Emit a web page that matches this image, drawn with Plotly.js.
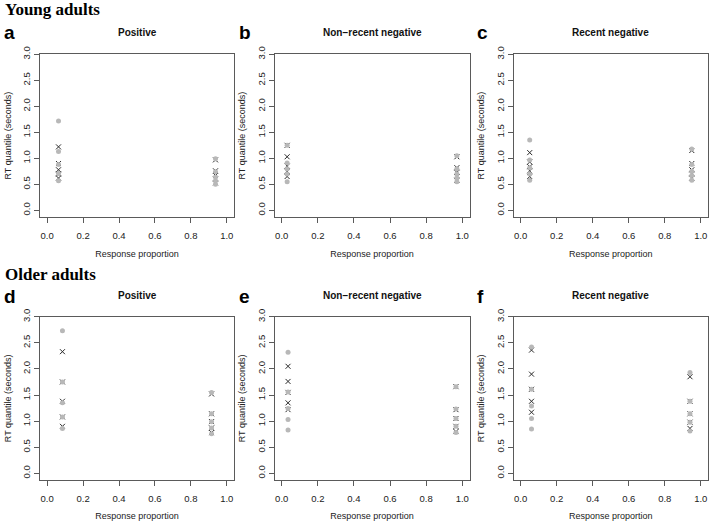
<!DOCTYPE html>
<html>
<head>
<meta charset="utf-8">
<script src="https://cdn.plot.ly/plotly-3.0.1.min.js"></script>
<style>
  html, body { margin: 0; padding: 0; background: #fff; }
  #chart { width: 709px; height: 521px; }
</style>
</head>
<body>
<div id="chart"></div>
<script>
// panels a-f: young adults on top, older adults below
const panelLetters = ['a', 'b', 'c', 'd', 'e', 'f'];
const panelTitles = ['Positive', 'Non\u2212recent negative', 'Recent negative',
                     'Positive', 'Non\u2212recent negative', 'Recent negative'];

// response proportions (error side, correct side)
const errorProp = [0.063, 0.03, 0.05, 0.085, 0.035, 0.06];
const correctProp = [0.937, 0.97, 0.95, 0.915, 0.965, 0.94];

// RT quantiles (seconds), observed data
const dataError = [
  [1.72, 1.13, 0.88, 0.71, 0.57],
  [1.25, 0.91, 0.80, 0.70, 0.55],
  [1.35, 0.97, 0.82, 0.70, 0.58],
  [2.73, 1.75, 1.35, 1.08, 0.86],
  [2.32, 1.56, 1.24, 1.03, 0.83],
  [2.42, 1.61, 1.29, 1.05, 0.85]
];
const dataCorrect = [
  [0.99, 0.74, 0.64, 0.57, 0.50],
  [1.05, 0.80, 0.70, 0.62, 0.55],
  [1.18, 0.88, 0.75, 0.67, 0.58],
  [1.55, 1.14, 0.99, 0.87, 0.76],
  [1.66, 1.23, 1.05, 0.90, 0.78],
  [1.93, 1.38, 1.14, 0.98, 0.81]
];

// RT quantiles (seconds), model predictions
const modelError = [
  [1.22, 0.90, 0.78, 0.70, 0.62],
  [1.25, 1.03, 0.85, 0.75, 0.65],
  [1.11, 0.93, 0.84, 0.76, 0.65],
  [2.33, 1.75, 1.38, 1.08, 0.90],
  [2.05, 1.76, 1.55, 1.35, 1.22],
  [2.36, 1.90, 1.61, 1.38, 1.17]
];
const modelCorrect = [
  [0.97, 0.76, 0.67, 0.60, 0.53],
  [1.03, 0.82, 0.73, 0.65, 0.58],
  [1.15, 0.90, 0.78, 0.70, 0.62],
  [1.52, 1.14, 0.99, 0.87, 0.78],
  [1.66, 1.22, 1.05, 0.90, 0.80],
  [1.85, 1.38, 1.14, 0.98, 0.86]
];

const W = 709, H = 521;
const colLeft = [40, 274.5, 513.5];
const colRight = [234, 469.5, 708];
const rowTop = [54.3, 316.7];
const rowBottom = [217, 480];

const sans = 'Liberation Sans, Arial, sans-serif';
const serif = 'Liberation Serif, Times New Roman, serif';
const lineCol = '#5a5a5a';
const textCol = '#222';

const traces = [];
const layout = {
  width: W,
  height: H,
  margin: {l: 0, r: 0, t: 0, b: 0},
  paper_bgcolor: '#fff',
  plot_bgcolor: '#fff',
  showlegend: false,
  font: {family: sans, size: 9, color: textCol},
  annotations: []
};

function rep(v, n) {
  const out = [];
  for (let i = 0; i < n; i++) out.push(v);
  return out;
}

for (let p = 0; p < 6; p++) {
  const col = p % 3, row = Math.floor(p / 3);
  const sfx = p === 0 ? '' : String(p + 1);
  const xa = 'x' + sfx, ya = 'y' + sfx;

  // model crosses first, data circles over them
  traces.push({
    x: rep(errorProp[p], modelError[p].length).concat(rep(correctProp[p], modelCorrect[p].length)),
    y: modelError[p].concat(modelCorrect[p]),
    xaxis: xa, yaxis: ya,
    type: 'scatter', mode: 'markers', hoverinfo: 'skip',
    marker: {symbol: 'x-thin-open', size: 5, color: '#2a2a2a', line: {width: 1, color: '#2a2a2a'}}
  });
  traces.push({
    x: rep(errorProp[p], dataError[p].length).concat(rep(correctProp[p], dataCorrect[p].length)),
    y: dataError[p].concat(dataCorrect[p]),
    xaxis: xa, yaxis: ya,
    type: 'scatter', mode: 'markers', hoverinfo: 'skip',
    marker: {symbol: 'circle', size: 5, color: '#b8b8b8'}
  });

  const xd = [colLeft[col] / W, colRight[col] / W];
  const yd = [1 - rowBottom[row] / H, 1 - rowTop[row] / H];

  layout['xaxis' + sfx] = {
    domain: xd, anchor: ya, range: [-0.04, 1.04],
    tick0: 0, dtick: 0.2, tickformat: '.1f',
    showgrid: false, zeroline: false,
    showline: true, mirror: true, linecolor: lineCol, linewidth: 1,
    ticks: 'outside', ticklen: 5, tickcolor: lineCol, tickwidth: 1,
    ticklabelstandoff: 5,
    tickfont: {family: sans, size: 9.5, color: textCol},
    title: {text: 'Response proportion', font: {family: sans, size: 9, color: textCol}, standoff: 10}
  };
  layout['yaxis' + sfx] = {
    domain: yd, anchor: xa, range: [-0.128, 3.0],
    tick0: 0, dtick: 0.5, tickformat: '.1f', tickangle: -90,
    showgrid: false, zeroline: false,
    showline: true, mirror: true, linecolor: lineCol, linewidth: 1,
    ticks: 'outside', ticklen: 5, tickcolor: lineCol, tickwidth: 1,
    tickfont: {family: sans, size: 9.5, color: textCol},
    title: {text: 'RT quantile (seconds)', font: {family: sans, size: 9, color: textCol}, standoff: 8}
  };

  // panel title
  layout.annotations.push({
    xref: 'paper', yref: 'paper',
    x: (colLeft[col] + colRight[col]) / 2 / W,
    y: 1 - (row === 0 ? 32.7 : 295) / H,
    xanchor: 'center', yanchor: 'middle', showarrow: false,
    text: '<b>' + panelTitles[p] + '</b>',
    font: {family: sans, size: 10, color: '#111'}
  });
  // panel letter
  layout.annotations.push({
    xref: 'paper', yref: 'paper',
    x: [2, 237, 475][col] / W,
    y: 1 - (row === 0 ? 32 : 296) / H,
    xanchor: 'left', yanchor: 'middle', showarrow: false,
    text: '<b>' + panelLetters[p] + '</b>',
    font: {family: sans, size: 19, color: '#000'}
  });
}

// group headings
const groupHeadings = ['Young adults', 'Older adults'];
const groupY = [9, 274];
for (let g = 0; g < 2; g++) {
  layout.annotations.push({
    xref: 'paper', yref: 'paper',
    x: 3 / W, y: 1 - groupY[g] / H,
    xanchor: 'left', yanchor: 'middle', showarrow: false,
    text: '<b>' + groupHeadings[g] + '</b>',
    font: {family: serif, size: 17, color: '#000'}
  });
}

Plotly.newPlot('chart', traces, layout, {staticPlot: true, displayModeBar: false});
</script>
</body>
</html>
